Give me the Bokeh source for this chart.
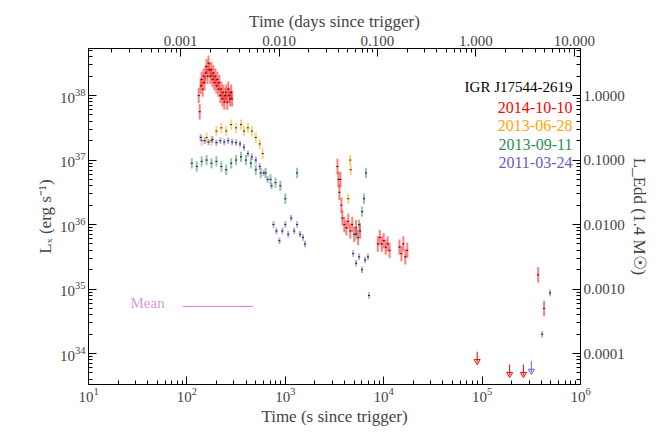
import numpy as np
from bokeh.plotting import figure
from bokeh.models import LogAxis, Range1d, Label, FixedTicker, PrintfTickFormatter
from bokeh.embed import file_html
from bokeh.resources import INLINE

# log10(time s), log10(Lx)
red_t = [2.12, 2.13, 2.14, 2.15, 2.16, 2.17, 2.18, 2.19, 2.20, 2.21, 2.22, 2.23, 2.24, 2.25, 2.26, 2.27, 2.28,
         2.29, 2.30, 2.31, 2.32, 2.33, 2.34, 2.35, 2.36, 2.37, 2.38, 2.39, 2.40, 2.41, 2.42, 2.43, 2.44, 2.45, 2.46,
         3.53, 3.54, 3.55, 3.56, 3.57, 3.58, 3.60, 3.62, 3.64, 3.66, 3.68, 3.70, 3.72, 3.74, 3.76,
         3.94, 3.96, 3.98, 4.00, 4.02, 4.04, 4.06, 4.16, 4.18, 4.20, 4.22, 4.24, 5.57, 5.63]
red_l = [38.0, 37.75, 38.15, 38.25, 38.1, 38.3, 38.2, 38.35, 38.45, 38.3, 38.5, 38.4, 38.3, 38.4, 38.25, 38.35, 38.2,
         38.3, 38.15, 38.25, 38.1, 38.2, 38.0, 38.1, 37.95, 38.05, 37.9, 38.0, 38.05, 37.9, 38.1, 38.0, 37.95, 38.05, 37.95,
         36.9, 36.7, 36.5, 36.7, 36.3, 36.1, 36.0, 35.95, 36.05, 35.9, 36.0, 35.85, 35.95, 35.8, 35.9,
         35.7, 35.8, 35.7, 35.75, 35.65, 35.7, 35.6, 35.65, 35.55, 35.7, 35.5, 35.6, 35.22, 34.70]
orange_t = [2.15, 2.20, 2.25, 2.30, 2.35, 2.40, 2.45, 2.50, 2.55, 2.58, 2.62, 2.66, 2.70, 2.74, 2.77, 3.64, 3.66, 3.665]
orange_l = [37.3, 37.35, 37.3, 37.45, 37.5, 37.45, 37.55, 37.5, 37.55, 37.45, 37.5, 37.45, 37.35, 37.25, 37.1, 36.4, 37.0, 36.85]
green_t = [2.05, 2.10, 2.15, 2.20, 2.25, 2.30, 2.35, 2.40, 2.45, 2.50, 2.55, 2.60, 2.65, 2.70, 2.75, 2.80, 2.85,
           2.90, 2.95, 3.00, 3.12, 3.72, 3.75, 3.78, 3.80, 3.82]
green_l = [36.95, 36.9, 36.98, 37.0, 36.95, 36.98, 36.9, 36.85, 36.95, 37.0, 37.05, 37.0, 36.95, 36.85, 36.8, 36.8, 36.7,
           36.65, 36.6, 36.4, 36.8, 35.85, 36.0, 36.2, 36.4, 36.8]
purple_t = [2.14, 2.18, 2.22, 2.26, 2.30, 2.34, 2.38, 2.42, 2.46, 2.50, 2.54, 2.58, 2.62, 2.66, 2.70, 2.74, 2.78, 2.82,
            2.86, 2.88, 2.91, 2.94, 2.97, 3.00, 3.03, 3.06, 3.09, 3.12, 3.15, 3.18, 3.20,
            3.69, 3.72, 3.75, 3.78, 3.81, 3.84, 3.85, 5.61, 5.69]
purple_l = [37.35, 37.3, 37.28, 37.32, 37.27, 37.3, 37.28, 37.3, 37.28, 37.27, 37.25, 37.2, 37.1, 37.05, 37.0, 36.9, 36.8,
            36.7, 36.6, 36.0, 35.9, 35.75, 35.9, 36.0, 35.85, 36.1, 35.9, 36.0, 35.85, 35.8, 35.7,
            35.55, 35.4, 35.5, 35.3, 35.45, 35.5, 34.9, 34.3, 34.94]
# upper limits (log t, log L)
lim_red_t = [4.95, 5.28, 5.42]
lim_red_l = [34.03, 33.83, 33.83]
lim_purple_t = [5.50]
lim_purple_l = [33.88]
mean_t = [1.96, 2.67]
mean_l = 34.73

series = [
    ("2014-10-10", "#ff0000", red_t, red_l, 0.12),
    ("2013-06-28", "#ffa500", orange_t, orange_l, 0.08),
    ("2013-09-11", "#2e8b57", green_t, green_l, 0.08),
    ("2011-03-24", "#6a5acd", purple_t, purple_l, 0.05),
]

FONT = "Liberation Serif"
p = figure(x_axis_type="log", y_axis_type="log", x_range=(10, 1e6), y_range=(10**33.52, 10**38.73),
           frame_width=492, frame_height=336, min_border_left=88, min_border_top=48,
           min_border_right=78, min_border_bottom=46, toolbar_location=None,
           output_backend="svg", background_fill_color="white")
p.grid.visible = False
p.outline_line_color = "black"

for name, col, lt, ll, err in series:
    t = 10 ** np.array(lt)
    L = 10 ** np.array(ll)
    p.segment(t, L * 10**-err, t, L * 10**err, line_color=col, line_width=2, line_alpha=0.5)
    p.segment(t * 0.985, L, t * 1.015, L, line_color=col, line_width=1)
    p.scatter(t, L, size=2, color="#222222", marker="dash")

for lt, ll, col in [(lim_red_t, lim_red_l, "#ff0000"), (lim_purple_t, lim_purple_l, "#6a5acd")]:
    t = 10 ** np.array(lt)
    L = 10 ** np.array(ll)
    p.segment(t, L, t, L * 10**-0.17, line_color=col, line_width=1)
    p.scatter(t, L * 10**-0.15, marker="inverted_triangle", size=6, fill_alpha=0, line_color=col)

p.line(10 ** np.array(mean_t), [10**mean_l] * 2, line_color="#e070e0", line_width=1)
p.add_layout(Label(x=42, y=74, x_units="screen", y_units="screen", text="Mean",
                   text_color="#dd99dd", text_font=FONT, text_font_size="15px"))

xax = p.below[0]
yax = p.left[0]
xax.axis_label = "Time (s since trigger)"
yax.axis_label = "Lₓ (erg s⁻¹)"
xax.ticker = FixedTicker(ticks=[1e1, 1e2, 1e3, 1e4, 1e5, 1e6],
                         minor_ticks=[m * 10**e for e in range(1, 6) for m in range(2, 10)])
yax.ticker = FixedTicker(ticks=[1e34, 1e35, 1e36, 1e37, 1e38],
                         minor_ticks=[m * 10**e for e in range(33, 39) for m in range(2, 10)])

# right axis: Eddington fraction
p.extra_y_ranges = {"edd": Range1d(10**(33.52 - 38), 10**(38.73 - 38))}
ra = LogAxis(y_range_name="edd", axis_label="L_Edd (1.4 M☉)",
             ticker=FixedTicker(ticks=[1e-4, 1e-3, 1e-2, 1e-1, 1.0],
                                minor_ticks=[m * 10**e for e in range(-5, 1) for m in range(2, 10)]),
             formatter=PrintfTickFormatter(format="%.4f"))
p.add_layout(ra, "right")
# top axis: days
p.extra_x_ranges = {"days": Range1d(10 / 86400, 1e6 / 86400)}
ta = LogAxis(x_range_name="days", axis_label="Time (days since trigger)",
             ticker=FixedTicker(ticks=[0.001, 0.01, 0.1, 1, 10],
                                minor_ticks=[m * 10**e for e in range(-5, 2) for m in range(2, 10)]),
             formatter=PrintfTickFormatter(format="%.3f"))
p.add_layout(ta, "above")

for ax in [xax, yax, ra, ta]:
    ax.axis_label_text_font = FONT
    ax.axis_label_text_font_style = "normal"
    ax.axis_label_text_font_size = "17px"
    ax.major_label_text_font = FONT
    ax.major_label_text_font_size = "15px"
    ax.major_tick_in = 8
    ax.major_tick_out = 0
    ax.minor_tick_in = 4
    ax.minor_tick_out = 0
    ax.axis_label_standoff = 2
    ax.major_label_standoff = 3

p.add_layout(Label(x=484, y=290, x_units="screen", y_units="screen", text="IGR J17544-2619",
                   text_align="right", text_font=FONT, text_font_size="15px", text_color="black"))
for i, (name, col, _, _, _) in enumerate(series):
    p.add_layout(Label(x=484, y=272 - 18.5 * i, x_units="screen", y_units="screen", text=name,
                       text_align="right", text_font=FONT, text_font_size="16px", text_color=col))

open("out.html", "w").write(file_html(p, INLINE))
